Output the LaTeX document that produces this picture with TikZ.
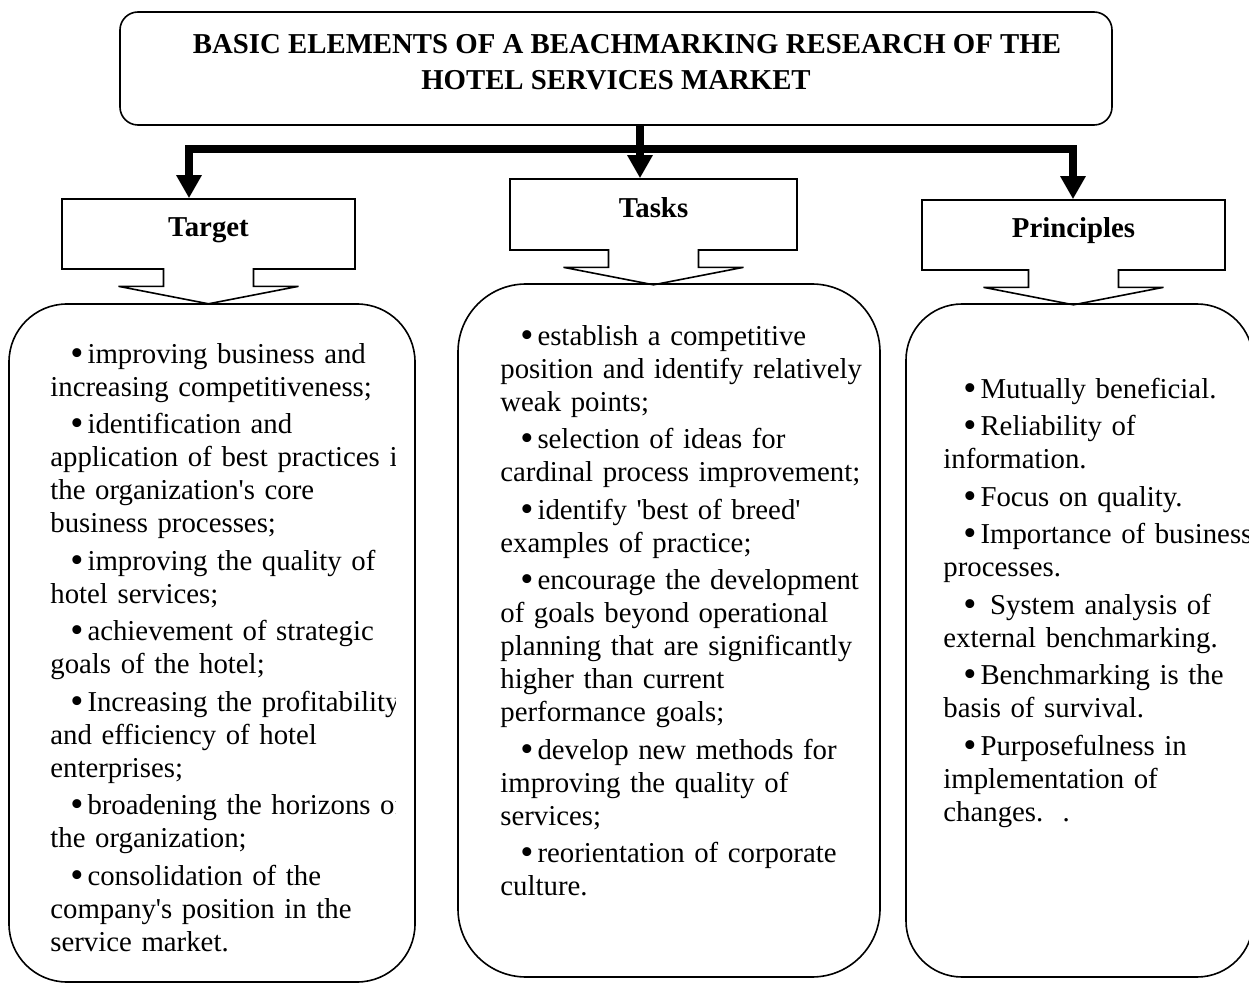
\documentclass[tikz,border=0pt]{standalone}
\usepackage{fontspec}
\usepackage{graphicx}
\setmainfont{Liberation Serif}
\usetikzlibrary{arrows.meta,shapes.arrows}
\newcommand\listfont{\fontsize{14.4}{16.5}\selectfont\setlength\parindent{0pt}\setlength\parskip{2.25pt}}
\newcommand\bul{\strut\hspace*{10pt}\raisebox{-1pt}{\scalebox{1.3}{\textbullet}}\hspace{2pt}}
\newcommand\apos{\textquotesingle}
\tikzset{
  headbox/.style={arrow box, draw, line width=0.8pt, font=\fontsize{14.4}{16.5}\selectfont\bfseries,
    text height=10pt, text depth=7pt, minimum height=35pt,
    arrow box arrows={north:0pt, east:0pt, west:0pt, south:17pt},
    arrow box shaft width=45pt, arrow box head extend=22.5pt, arrow box tip angle=158},
  listbox/.style={draw, line width=0.8pt, inner sep=0pt, rounded corners=#1},
  listtext/.style={anchor=north west, inner sep=0pt, text width=200pt, font=\listfont},
  bus/.style={line width=3.75pt, -{Triangle[length=11.5pt,width=12pt]}}
}
\begin{document}
\begin{tikzpicture}[x=0.5pt, y=-0.5pt, line join=miter]
  \useasboundingbox (0,0) rectangle (1249,984);
  \clip (0,0) rectangle (1249,984);
  \node[draw, line width=0.8pt, rounded corners=9pt, minimum width=496pt, minimum height=56.5pt,
    align=center, font=\fontsize{14.4}{18}\selectfont\bfseries] (title) at (616,68.5)
    {\hspace*{11pt}BASIC ELEMENTS OF A BEACHMARKING RESEARCH OF THE\\HOTEL SERVICES MARKET\rule[-7pt]{0pt}{0pt}};
  \node[headbox, minimum width=146.5pt] (target) at (208.5,234) {Target};
  \node[headbox, minimum width=143.5pt, minimum height=35.5pt] (tasks) at (653.5,214.5) {Tasks};
  \node[headbox, minimum width=151.5pt] (principles) at (1073.5,235) {Principles};
  \node[listbox=29pt, minimum width=203pt, minimum height=339pt] (tgtbox) at (212,643) {};
  \node[listbox=34pt, minimum width=211pt, minimum height=346.5pt] (taskbox) at (669,630.5) {};
  \node[listbox=28pt, minimum width=173.5pt, minimum height=336.5pt] (prinbox) at (1079.5,640.5) {};
  \coordinate (hub) at (640,149);
  \coordinate (lbend) at (189,149);
  \coordinate (rbend) at (1073,149);
  \draw[bus] (title.south -| hub) -- (hub) -- (hub |- tasks.north);
  \draw[bus] (hub) -- (lbend) -- (lbend |- target.north);
  \draw[bus] (hub) -- (rbend) -- (rbend |- principles.north);
  \begin{scope}
    \clip (0,0) rectangle (395,984);
    \node[listtext] (tgtlist) at (50,340) {%
      \bul improving business and\newline increasing competitiveness;\par
      \bul identification and\newline application of best practices in\newline the organization\apos s core\newline business processes;\par
      \bul improving the quality of\newline hotel services;\par
      \bul achievement of strategic\newline goals of the hotel;\par
      \bul Increasing the profitability\newline and efficiency of hotel\newline enterprises;\par
      \bul broadening the horizons of\newline the organization;\par
      \bul consolidation of the\newline company\apos s position in the\newline service market.\par};
  \end{scope}
  \node[listtext] (tasklist) at (500,322) {%
    \bul establish a competitive\newline position and identify relatively\newline weak points;\par
    \bul selection of ideas for\newline cardinal process improvement;\par
    \bul identify \apos best of breed\apos\newline examples of practice;\par
    \bul encourage the development\newline of goals beyond operational\newline planning that are significantly\newline higher than current\newline performance goals;\par
    \bul develop new methods for\newline improving the quality of\newline services;\par
    \bul reorientation of corporate\newline culture.\par};
  \node[listtext] (prinlist) at (943,375) {%
    \bul Mutually beneficial.\par
    \bul Reliability of\newline information.\par
    \bul Focus on quality.\par
    \bul Importance of business\newline processes.\par
    \bul\ System analysis of\newline external benchmarking.\par
    \bul Benchmarking is the\newline basis of survival.\par
    \bul Purposefulness in\newline implementation of\newline changes.~~.\par};
\end{tikzpicture}
\end{document}
